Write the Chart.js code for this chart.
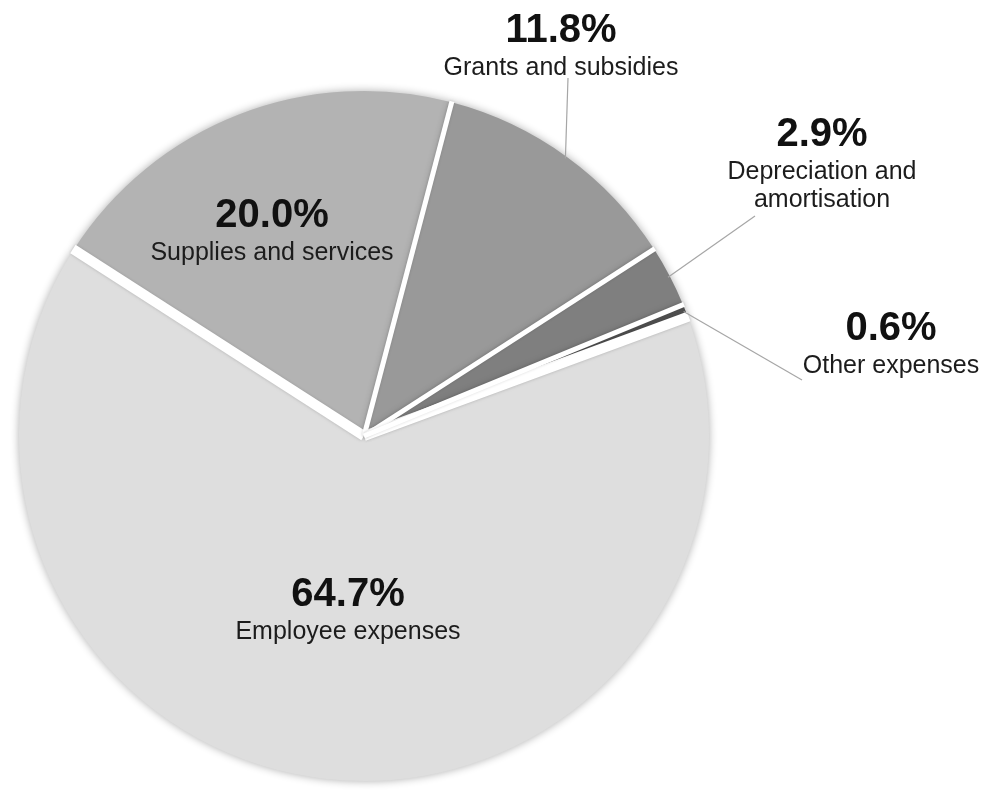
<!DOCTYPE html>
<html>
<head>
<meta charset="utf-8">
<script src="https://cdn.jsdelivr.net/npm/chart.js@4"></script>
<style>
  body { margin: 0; background: #fff; }
  #wrap { width: 982px; height: 794px; position: relative; }
</style>
</head>
<body>
<div id="wrap"><canvas id="expense-chart"></canvas></div>
<script>
// Chart data
const categories = ['Employee expenses', 'Supplies and services', 'Grants and subsidies', 'Depreciation and amortisation', 'Other expenses'];
const shares = [64.7, 20.0, 11.8, 2.9, 0.6];
const sliceColors = ['#dedede', '#b3b3b3', '#999999', '#7f7f7f', '#4f4f4f'];
// width of the white gap drawn at the start edge of each slice
const gapWidths = [10, 10, 5, 5, 5];

// label placement (text centre, label lines, optional leader end point)
const labelStyle = [
  { x: 348, y: 595, lines: ['Employee expenses'] },
  { x: 272, y: 216, lines: ['Supplies and services'] },
  { x: 561, y: 31, lines: ['Grants and subsidies'], leader: [568, 78] },
  { x: 822, y: 135, lines: ['Depreciation and', 'amortisation'], leader: [755, 216] },
  { x: 891, y: 329, lines: ['Other expenses'], leader: [802, 380] }
];

const shadowPlugin = {
  id: 'shadow',
  beforeDatasetsDraw(chart) {
    const ctx = chart.ctx;
    ctx.save();
    ctx.shadowColor = 'rgba(0,0,0,0.32)';
    ctx.shadowBlur = 8;
  },
  afterDatasetsDraw(chart) {
    chart.ctx.restore();
  }
};

const labelPlugin = {
  id: 'sliceLabels',
  afterDatasetsDraw(chart) {
    const ctx = chart.ctx;
    const arcs = chart.getDatasetMeta(0).data;
    ctx.save();

    // white gaps between the slices
    ctx.strokeStyle = '#ffffff';
    ctx.lineCap = 'butt';
    ctx.shadowColor = 'rgba(0,0,0,0.15)';
    ctx.shadowBlur = 3;
    arcs.forEach(function(arc, i) {
      const p = arc.getProps(['x', 'y', 'startAngle', 'outerRadius'], true);
      ctx.lineWidth = gapWidths[i];
      ctx.beginPath();
      ctx.moveTo(p.x, p.y);
      ctx.lineTo(p.x + Math.cos(p.startAngle) * (p.outerRadius + 1), p.y + Math.sin(p.startAngle) * (p.outerRadius + 1));
      ctx.stroke();
    });
    ctx.shadowColor = 'transparent';
    ctx.shadowBlur = 0;

    arcs.forEach(function(arc, i) {
      const s = labelStyle[i];
      if (s.leader) {
        const p = arc.getProps(['x', 'y', 'startAngle', 'endAngle', 'outerRadius'], true);
        const mid = (p.startAngle + p.endAngle) / 2;
        ctx.strokeStyle = '#a6a6a6';
        ctx.lineWidth = 1.2;
        ctx.beginPath();
        ctx.moveTo(p.x + Math.cos(mid) * (p.outerRadius - 2), p.y + Math.sin(mid) * (p.outerRadius - 2));
        ctx.lineTo(s.leader[0], s.leader[1]);
        ctx.stroke();
      }
      ctx.fillStyle = '#111';
      ctx.textAlign = 'center';
      ctx.textBaseline = 'middle';
      ctx.font = 'bold 40px "Liberation Sans", Arial, sans-serif';
      ctx.fillText(shares[i].toFixed(1) + '%', s.x, s.y);
      ctx.fillStyle = '#1c1c1c';
      ctx.font = '25px "Liberation Sans", Arial, sans-serif';
      s.lines.forEach(function(line, j) {
        ctx.fillText(line, s.x, s.y + 37 + j * 28);
      });
    });
    ctx.restore();
  }
};

new Chart(document.getElementById('expense-chart'), {
  type: 'pie',
  data: {
    labels: categories,
    datasets: [{
      data: shares,
      backgroundColor: sliceColors,
      borderWidth: 0,
      hoverOffset: 0
    }]
  },
  options: {
    responsive: true,
    maintainAspectRatio: false,
    animation: false,
    rotation: 69.8,
    layout: { padding: { left: 19, right: 273, top: 91, bottom: 13 } },
    plugins: {
      legend: { display: false },
      tooltip: { enabled: false }
    }
  },
  plugins: [shadowPlugin, labelPlugin]
});
</script>
</body>
</html>
